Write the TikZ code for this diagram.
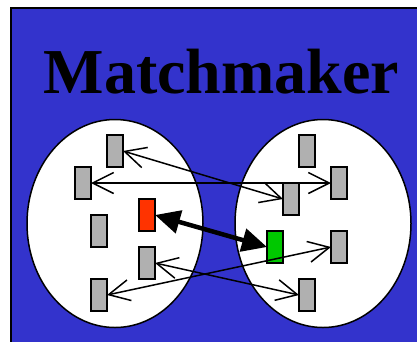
\documentclass[tikz,border=0pt]{standalone}
\usepackage{fontspec}
\setmainfont{Liberation Serif}
\usetikzlibrary{shapes.geometric,arrows.meta}
\definecolor{bgblue}{HTML}{3333CC}
\definecolor{boxgray}{HTML}{B0B0B0}
\definecolor{boxred}{HTML}{FF3300}
\definecolor{boxgreen}{HTML}{00C800}
\tikzset{
  pool/.style={ellipse, draw=black, line width=1.5pt, fill=white, minimum width=176pt, minimum height=208pt, inner sep=0pt},
  item/.style={rectangle, draw=black, line width=1.5pt, fill=boxgray, minimum width=16pt, minimum height=32pt, inner sep=0pt, outer sep=0pt},
  link/.style={line width=1.5pt, {Straight Barb[length=21pt,width=21pt,line width=1.5pt]}-{Straight Barb[length=21pt,width=21pt,line width=1.5pt]}},
  match/.style={line width=4.5pt, {Triangle[length=25pt,width=23pt]}-{Triangle[length=25pt,width=23pt]}},
}
\begin{document}
\begin{tikzpicture}[x=1pt,y=-1pt]
\useasboundingbox (0,0) rectangle (417,341);
\fill[white] (0,0) rectangle (417,341);
\draw[fill=bgblue, line width=2pt] (11,8) rectangle (430,360);
\node[font=\bfseries\fontsize{64}{64}\selectfont, anchor=base] (title) at (221.5,93) {Matchmaker};
\node[pool] (left) at (115,223.5) {};
\node[pool] (right) at (323,223.5) {};
% left items
\node[item] (A) at (115,151) {};
\node[item] (B) at (83,183) {};
\node[item] (C) at (99,231) {};
\node[item, fill=boxred] (R) at (147,215) {};
\node[item] (D) at (147,263) {};
\node[item] (E) at (99,295) {};
% right items
\node[item] (F) at (307,151) {};
\node[item] (G) at (339,183) {};
\node[item] (H) at (291,199) {};
\node[item, fill=boxgreen] (Gr) at (275,247) {};
\node[item] (I) at (339,247) {};
\node[item] (J) at (307,295) {};
% links
\draw[link] (A.east) -- (H.west);
\draw[link] (B.east) -- (G.west);
\draw[link] (D.east) -- (J.west);
\draw[link] (E.east) -- (I.west);
\draw[match] (R.east) -- (Gr.west);
\end{tikzpicture}
\end{document}
